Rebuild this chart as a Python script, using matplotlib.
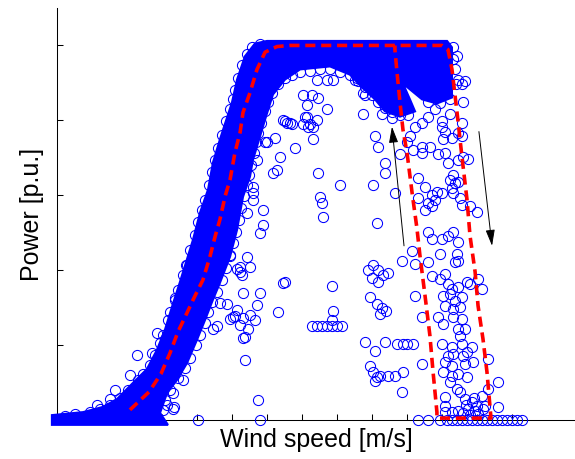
import matplotlib
matplotlib.use("Agg")
import matplotlib.pyplot as plt

# dense part of the cloud (outline of the solid blue band), m/s and p.u.
band_w = [-0.29, -0.29, 1.49, 2.63, 3.43, 4.34, 5.14, 5.71, 6.17, 6.57, 7.03, 7.77, 8.17, 8.63,
          8.91, 9.31, 9.49, 10.0, 10.29, 10.74, 11.31, 12.0, 22.29, 22.57, 22.57, 21.71, 20.86,
          19.77, 20.17, 20.46, 19.6, 18.74, 18.17, 17.43, 16.74, 15.6, 13.89, 13.03, 12.34, 11.89,
          11.6, 11.2, 11.03, 10.63, 10.29, 9.89, 9.31, 8.91, 8.46, 8.0, 7.43, 6.86, 6.29, 5.89, 6.34]
band_p = [-0.013, 0.013, 0.021, 0.035, 0.056, 0.099, 0.136, 0.187, 0.241, 0.302, 0.369, 0.481,
          0.553, 0.615, 0.687, 0.749, 0.775, 0.848, 0.909, 0.971, 1.005, 1.012, 1.012, 0.995,
          0.861, 0.845, 0.856, 0.898, 0.856, 0.824, 0.81, 0.824, 0.856, 0.888, 0.922, 0.944,
          0.936, 0.909, 0.869, 0.802, 0.757, 0.695, 0.65, 0.596, 0.508, 0.436, 0.366, 0.321,
          0.267, 0.214, 0.152, 0.107, 0.072, 0.019, -0.013]

# single circles sitting on the rim of the dense band
edge_w = [0.46, 1.03, 1.89, 2.46, 3.03, 3.6, 4.06, 4.63, 4.91, 5.31, 5.6, 5.89, 6.06, 6.34, 6.46,
          6.74, 6.91, 7.2, 7.37, 7.6, 7.89, 8.06, 8.29, 8.46, 8.69, 8.86, 9.03, 9.2, 9.43, 9.66,
          9.89, 10.06, 10.17, 10.34, 10.57, 10.86, 11.14, 11.6,
          6.06, 6.17, 6.46, 6.91, 7.31, 7.6, 7.94, 8.17, 8.46, 8.63, 8.86, 9.14, 9.43, 9.66, 9.89,
          10.06, 10.23, 10.4, 10.51, 10.69, 10.86, 10.97, 11.09, 11.26, 11.37, 11.49, 11.66,
          11.89, 12.06, 12.29, 12.63, 13.03, 13.43, 13.89, 14.46, 15.03, 15.6, 16.17, 16.74,
          17.2, 17.6, 18.0, 18.34, 18.74, 19.14, 19.6, 20.06,
          22.63, 22.74, 22.8, 22.46, 21.89, 21.2]
edge_p = [0.011, 0.016, 0.021, 0.029, 0.04, 0.059, 0.08, 0.107, 0.123, 0.147, 0.174, 0.206, 0.227,
          0.267, 0.289, 0.326, 0.348, 0.388, 0.414, 0.455, 0.495, 0.529, 0.561, 0.588, 0.628,
          0.663, 0.695, 0.727, 0.762, 0.797, 0.829, 0.856, 0.882, 0.914, 0.947, 0.976, 0.995,
          1.005,
          0.027, 0.053, 0.08, 0.112, 0.139, 0.166, 0.201, 0.227, 0.259, 0.289, 0.316, 0.342,
          0.374, 0.406, 0.441, 0.473, 0.503, 0.535, 0.567, 0.599, 0.628, 0.655, 0.682, 0.714,
          0.741, 0.767, 0.794, 0.824, 0.85, 0.874, 0.896, 0.914, 0.922, 0.93, 0.933, 0.936,
          0.936, 0.93, 0.92, 0.904, 0.888, 0.869, 0.85, 0.834, 0.821, 0.813, 0.813,
          0.963, 0.936, 0.896, 0.856, 0.845, 0.85]

# scattered measurements around the ramp
ramp_w = [13.03, 12.46, 12.0, 12.74, 12.57, 12.34, 11.43, 11.2, 10.86, 11.77, 13.6, 11.77, 11.6,
          10.86, 11.03, 10.46, 10.57, 12.91, 11.89, 11.2, 11.2, 12.63, 11.6, 10.63, 10.46,
          10.17, 10.63, 11.03, 11.31, 10.46, 10.91, 10.74, 10.29, 11.43, 9.71, 9.31, 10.06, 9.89,
          9.14, 8.91, 10.29, 9.89, 10.63, 10.74, 11.49, 8.06, 11.6, 7.2, 6.63, 6.69, 6.29, 6.63,
          7.43, 6.74, 5.71, 5.43, 4.57, 4.17, 3.31, 2.29, 3.03]
ramp_p = [0.797, 0.754, 0.741, 0.701, 0.668, 0.66, 0.695, 0.607, 0.553, 0.521, 0.727, 0.561, 0.5,
          0.436, 0.409, 0.409, 0.388, 0.366, 0.741, 0.588, 0.623, 0.289, 0.34, 0.34, 0.396,
          0.278, 0.273, 0.281, 0.267, 0.254, 0.243, 0.222, 0.294, 0.307, 0.31, 0.313, 0.275, 0.27,
          0.251, 0.243, 0.404, 0.439, 0.219, 0.16, 0.053, 0.0, 0.0, 0.107, 0.072, 0.035, 0.04,
          0.029, 0.414, 0.321, 0.233, 0.179, 0.174, 0.12, 0.08, 0.04, 0.056]

# scattered measurements below rated power
mid_w = [15.43, 15.77, 14.86, 14.06, 14.57, 14.91, 14.29, 15.43, 12.91, 13.31, 14.29, 14.86,
         14.34, 14.63, 14.46, 14.06, 17.49, 17.49, 17.03, 18.46, 13.14, 13.43, 14.63, 14.91,
         16.17, 15.03, 15.14, 15.2, 18.06, 19.31, 18.29, 14.17, 17.6, 17.14, 18.74, 18.74, 18.17,
         18.34, 18.57, 19.14,
         13.03, 15.71, 15.77, 14.57, 14.86, 15.14, 15.43, 15.71, 16.0, 16.29, 15.71, 17.77, 18.06,
         18.34, 18.63, 18.0, 18.34, 18.91, 17.89, 18.29, 18.57, 18.8, 18.46, 17.6, 18.17, 18.74,
         19.43, 19.77, 20.0, 20.34, 19.71, 17.89, 18.06, 18.29, 18.46, 18.91, 19.31, 19.77, 18.17]
mid_p = [0.909, 0.909, 0.909, 0.869, 0.869, 0.861, 0.842, 0.829, 0.802, 0.794, 0.81, 0.802,
         0.783, 0.783, 0.791, 0.789, 0.816, 0.874, 0.909, 0.904, 0.794, 0.789, 0.749, 0.66,
         0.628, 0.596, 0.58, 0.543, 0.628, 0.607, 0.527, 0.81, 0.869, 0.914, 0.687, 0.66, 0.757,
         0.73, 0.816, 0.807,
         0.369, 0.358, 0.291, 0.251, 0.251, 0.251, 0.251, 0.251, 0.251, 0.251, 0.267, 0.401, 0.414,
         0.401, 0.388, 0.38, 0.369, 0.393, 0.329, 0.31, 0.299, 0.291, 0.283, 0.209, 0.184, 0.209,
         0.203, 0.203, 0.203, 0.203, 0.075, 0.144, 0.128, 0.115, 0.118, 0.118, 0.118, 0.128, 0.104]

# measurements in the cut-out / cut-in (hysteresis) region
cut_w = [19.6, 20.0, 20.34, 20.86, 21.31, 20.86, 21.77, 22.17, 22.34, 22.91, 23.49, 20.63, 21.03,
         21.43, 21.71, 22.0, 21.2, 21.03, 21.43, 21.6, 20.63, 22.46, 22.63, 22.74, 22.91, 22.57,
         22.63, 23.03, 23.14, 23.6, 24.0, 22.06, 22.0, 22.57, 22.17, 21.2, 21.6, 22.0, 22.46,
         23.14, 23.2, 23.14, 22.91, 23.31, 22.86, 22.63, 23.14, 22.91, 23.2, 20.86, 20.46, 20.17,
         21.2, 21.43, 22.0, 22.34, 22.63, 22.91, 22.74, 22.91, 22.86, 21.89, 20.29, 20.46, 21.2,
         19.71, 21.43, 21.89, 22.17, 22.34, 22.57, 22.91, 23.43, 23.6, 24.06, 24.29, 22.06, 22.46,
         22.74, 23.14, 20.46, 22.17, 22.63, 23.03, 20.86, 21.77, 22.06, 22.63, 23.14, 22.91,
         23.31, 23.03, 22.0, 22.57, 23.14, 23.71, 22.34, 22.63, 23.2, 23.43, 20.86, 22.17, 22.57,
         23.31, 23.77, 24.63, 22.06, 22.57, 22.91, 23.43, 22.46, 25.2, 24.63, 22.86, 23.03, 22.17,
         23.31, 24.29, 22.17, 23.71, 24.0, 24.46, 25.2, 24.34, 23.89, 23.49, 22.91, 22.57, 22.17,
         23.2, 23.6, 24.06, 23.37, 23.83,
         20.63, 21.2, 21.89, 22.29, 22.57, 22.86, 23.14, 23.43, 23.71, 24.0, 24.29, 24.57, 24.86,
         25.14, 25.43, 25.71, 26.0, 26.29, 26.57]
cut_p = [0.709, 0.743, 0.722, 0.73, 0.73, 0.714, 0.709, 0.714, 0.687, 0.695, 0.698, 0.647, 0.623,
         0.602, 0.61, 0.607, 0.58, 0.561, 0.57, 0.588, 0.594, 0.642, 0.655, 0.634, 0.636, 0.62,
         0.607, 0.594, 0.575, 0.57, 0.556, 0.749, 0.783, 0.754, 0.77, 0.81, 0.829, 0.797, 0.816,
         0.794, 0.848, 0.896, 0.909, 0.904, 0.971, 0.995, 0.757, 0.767, 0.701, 0.794, 0.781, 0.757,
         0.503, 0.484, 0.484, 0.492, 0.503, 0.476, 0.422, 0.425, 0.444, 0.444, 0.452, 0.417, 0.422,
         0.425, 0.385, 0.377, 0.39, 0.364, 0.35, 0.356, 0.369, 0.364, 0.377, 0.35, 0.332, 0.337,
         0.318, 0.329, 0.332, 0.305, 0.297, 0.302, 0.275, 0.275, 0.257, 0.275, 0.27, 0.243,
         0.243, 0.225, 0.203, 0.195, 0.203, 0.195, 0.171, 0.176, 0.171, 0.182, 0.15, 0.155, 0.144,
         0.15, 0.155, 0.163, 0.128, 0.118, 0.123, 0.115, 0.102, 0.102, 0.083, 0.083, 0.075, 0.061,
         0.056, 0.064, 0.037, 0.048, 0.037, 0.037, 0.035, 0.029, 0.024, 0.029, 0.024, 0.021, 0.021,
         0.019, 0.013, 0.016, 0.04, 0.059,
         0, 0, 0, 0, 0, 0, 0, 0, 0, 0, 0, 0, 0, 0, 0, 0, 0, 0, 0]

# power curve with hysteresis: ramp, rated, cut-out, then cut-in on the way back
curve_w = [4.17, 5.26, 5.94, 6.46, 6.91, 7.43, 7.83, 8.34, 8.74, 9.03, 9.31, 9.6, 9.89, 10.17,
           10.46, 10.63, 11.03, 11.43, 11.89, 12.57, 13.31, 22.0, 22.34, 22.57, 22.86, 23.14,
           23.43, 23.6, 23.89, 24.06, 24.34, 24.57, 24.74, 24.8, 21.71, 21.71, 21.49, 21.31, 21.03,
           20.74, 20.57, 20.29, 20.0, 19.77, 19.6, 19.43, 19.31, 19.31]
curve_p = [0.027, 0.075, 0.123, 0.179, 0.235, 0.286, 0.326, 0.374, 0.436, 0.489, 0.535, 0.596,
           0.642, 0.714, 0.767, 0.821, 0.874, 0.936, 0.982, 0.997, 1.0, 1.0, 0.989, 0.936, 0.821,
           0.703, 0.588, 0.492, 0.396, 0.305, 0.217, 0.128, 0.037, 0.005, 0.005, 0.021, 0.128,
           0.225, 0.332, 0.439, 0.511, 0.607, 0.714, 0.775, 0.848, 0.928, 0.989, 1.0]

# hysteresis arrows (tail, head)
arrow_up = [(19.83, 0.465), (19.14, 0.783)]
arrow_down = [(24.11, 0.77), (24.86, 0.465)]

fig = plt.figure(figsize=(5.75, 4.59), dpi=100)
ax = fig.add_axes([0.0991, 0.085, 0.9009, 0.8976])

blue = (0, 0, 1)
ax.fill(band_w, band_p, color=blue, lw=1.5, ec=blue, zorder=2, clip_on=False)
for w, p in [(edge_w, edge_p), (ramp_w, ramp_p), (mid_w, mid_p), (cut_w, cut_p)]:
    ax.plot(w, p, 'o', mfc='none', mec=blue, ms=7.3, mew=0.75, zorder=3, clip_on=False)

ax.plot(curve_w, curve_p, color=(1, 0, 0), lw=2.6, dashes=(2.8, 1.6), zorder=4)

for tail, head in [arrow_up, arrow_down]:
    ax.annotate('', xy=head, xytext=tail,
                arrowprops=dict(arrowstyle='-|>,head_length=0.7,head_width=0.2',
                                color='k', lw=0.7, mutation_scale=14, shrinkA=0, shrinkB=0),
                zorder=5)

ax.set_xlim(0, 29.6)
ax.set_ylim(0, 1.1)
ax.set_xticks([0, 2, 4, 6, 8, 10, 12, 14, 16, 18, 20, 22, 24, 26])
ax.set_yticks([0, 0.2, 0.4, 0.6, 0.8, 1.0])
ax.set_xticklabels([])
ax.set_yticklabels([])
ax.tick_params(direction='in', length=4, width=0.75, color='k')
ax.spines['top'].set_visible(False)
ax.spines['right'].set_visible(False)
for s in ['left', 'bottom']:
    ax.spines[s].set_linewidth(0.75)
    ax.spines[s].set_zorder(1)

font = dict(family=['Liberation Sans', 'DejaVu Sans'], size=18)
ax.set_xlabel('Wind speed [m/s]', labelpad=2, **font)
ax.set_ylabel('Power [p.u.]', labelpad=6, **font)

fig.savefig('out.png', dpi=100)
